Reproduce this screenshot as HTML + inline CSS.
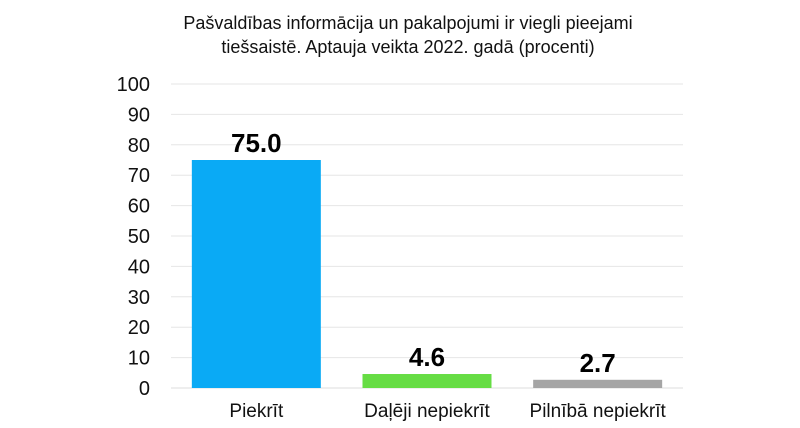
<!DOCTYPE html>
<html><head><meta charset="utf-8"><style>
body{margin:0;background:#fff;}
svg{display:block;font-family:"Liberation Sans",sans-serif;}
</style></head><body>
<svg id="c" width="800" height="428">
<text x="408" y="29" text-anchor="middle" font-size="18" fill="#111">Pašvaldības informācija un pakalpojumi ir viegli pieejami</text>
<text x="408" y="53" text-anchor="middle" font-size="18" fill="#111">tiešsaistē. Aptauja veikta 2022. gadā (procenti)</text>
<g id="grid"></g><g id="bars"></g>
</svg>
<script>
const categories=["Piekrīt","Daļēji nepiekrīt","Pilnībā nepiekrīt"];
const values=[75.0,4.6,2.7];
const labels=["75.0","4.6","2.7"];
const ticks=[0,10,20,30,40,50,60,70,80,90,100];
const colors=["#0aaaf5","#66dd44","#a5a5a5"];
const NS="http://www.w3.org/2000/svg";
const y0=388,y1=84,x0=171,x1=683;
const y=v=>y0-(v/100)*(y0-y1);
const band=(x1-x0)/3;
const g=document.getElementById('grid'),b=document.getElementById('bars');
function mk(t,a,p){const e=document.createElementNS(NS,t);for(const k in a)e.setAttribute(k,a[k]);p.appendChild(e);return e;}
ticks.forEach(t=>{
 const l=mk('line',{x1:x0,x2:x1,y1:y(t),y2:y(t),stroke:t===0?'#dddddd':'#e6e6e6','stroke-width':1},g);
 
 
 const tx=mk('text',{x:150,y:y(t)+7,'text-anchor':'end','font-size':20,fill:'#111'},g);
 tx.textContent=t;
 
 
});
categories.forEach((c,i)=>{
 const cx=x0+band*(i+0.5),w=129;
 const r=mk('rect',{x:cx-w/2,y:y(values[i]),width:w,height:y0-y(values[i]),fill:colors[i]},b);
 
 
 const v=mk('text',{x:cx,y:y(values[i])-8,'text-anchor':'middle','font-size':26,'font-weight':'bold',fill:'#000'},b);
 v.textContent=labels[i];
 
 
 const cl=mk('text',{x:cx,y:417,'text-anchor':'middle','font-size':19,fill:'#111'},b);
 cl.textContent=c;
 
 
});
</script>
</body></html>
